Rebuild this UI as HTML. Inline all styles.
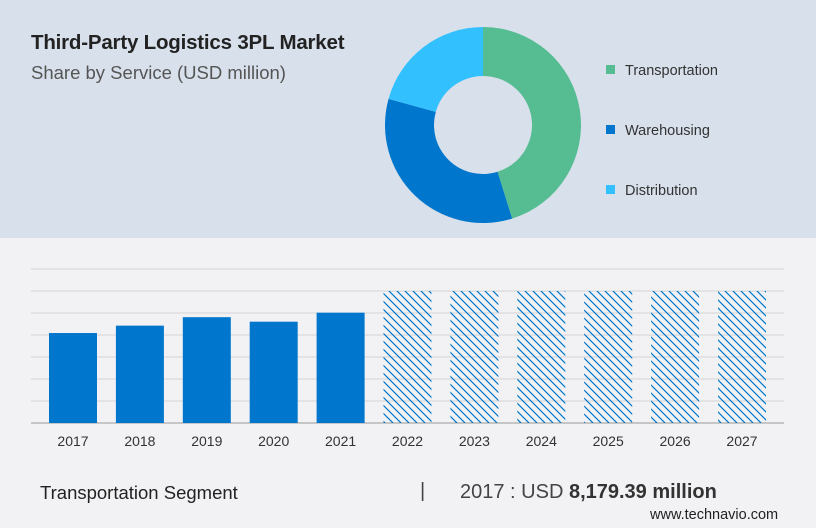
<!DOCTYPE html>
<html><head><meta charset="utf-8"><style>
body{margin:0;width:816px;height:528px;overflow:hidden;background:#f2f2f4;font-family:"Liberation Sans",sans-serif;position:relative}
.top{position:absolute;left:0;top:0;width:816px;height:238px;background:#d8e0eb}
.t{position:absolute;white-space:nowrap}
</style></head><body>
<div class="top"></div>
<div class="t" style="left:31px;top:31px;font-size:20.5px;font-weight:bold;color:#222;letter-spacing:-0.2px">Third-Party Logistics 3PL Market</div>
<div class="t" style="left:31px;top:62px;font-size:18.5px;color:#555">Share by Service (USD million)</div>
<svg id="donut" width="816" height="238" style="position:absolute;left:0;top:0"></svg>
<svg id="bars" width="816" height="290" style="position:absolute;left:0;top:238px"></svg>
<div class="t" style="left:40px;top:482px;font-size:18.5px;color:#222">Transportation Segment</div>
<div class="t" style="left:420px;top:480px;font-size:20px;color:#444">|</div>
<div class="t" style="left:460px;top:481px;font-size:20px;color:#444">2017 : USD <b style="color:#333">8,179.39 million</b></div>
<div class="t" style="left:650px;top:507px;font-size:14.5px;color:#222">www.technavio.com</div>
<script>
const segLabels=["Transportation","Warehousing","Distribution"];
const segShares=[45.2,34.1,20.7];
const segColors=["#56bd92","#0077cc","#33c0ff"];
const years=["2017","2018","2019","2020","2021","2022","2023","2024","2025","2026","2027"];
const values=[8179,8850,9620,9210,10030,12000,12000,12000,12000,12000,12000];
const forecast=[false,false,false,false,false,true,true,true,true,true,true];
const NS="http://www.w3.org/2000/svg";
function mk(p,t,a){const e=document.createElementNS(NS,t);for(const k in a)e.setAttribute(k,a[k]);p.appendChild(e);return e;}
const d=document.getElementById('donut');
const cx=483,cy=125,R=98,r=49;
let tot=segShares.reduce((a,b)=>a+b,0),ang=0;
function pt(a,rad){return [cx+rad*Math.sin(a),cy-rad*Math.cos(a)];}
segShares.forEach((v,i)=>{
 const a0=ang/tot*2*Math.PI;ang+=v;const a1=ang/tot*2*Math.PI;const lg=(a1-a0)>Math.PI?1:0;
 const [x0,y0]=pt(a0,R),[x1,y1]=pt(a1,R),[x2,y2]=pt(a1,r),[x3,y3]=pt(a0,r);
 const p=mk(d,'path',{d:`M${x0} ${y0}A${R} ${R} 0 ${lg} 1 ${x1} ${y1}L${x2} ${y2}A${r} ${r} 0 ${lg} 0 ${x3} ${y3}Z`,fill:segColors[i]});
 
 
 const ly=70+i*60;
 const m=mk(d,'rect',{x:606,y:ly-5,width:9,height:9,fill:segColors[i]});
 
 
 const t=mk(d,'text',{x:625,y:ly+5,'font-size':14.5,fill:'#333','font-family':'Liberation Sans, sans-serif'});
 t.textContent=segLabels[i];
 
 
});
const b=document.getElementById('bars');
const defs=mk(b,'defs',{});
const pat=mk(defs,'pattern',{id:'hatch',patternUnits:'userSpaceOnUse',width:8,height:8});
mk(pat,'path',{d:'M0,0L8,8M-4,4L4,12M4,-4L12,4',stroke:'#0077cc','stroke-width':1.2,fill:'none'});
const base=185,maxV=14000,plotH=154;
const y=v=>base-v/maxV*plotH;
for(let g=1;g<=7;g++){const l=mk(b,'line',{x1:31,x2:784,y1:y(g*2000),y2:y(g*2000),stroke:'#d4d4d8'});}
const ax=mk(b,'line',{x1:31,x2:784,y1:base,y2:base,stroke:'#999'});


const x0=49,step=66.9,bw=48;
years.forEach((yr,i)=>{
 const x=x0+i*step;
 const rc=mk(b,'rect',{x:x,y:y(values[i]),width:bw,height:base-y(values[i]),fill:forecast[i]?'url(#hatch)':'#0077cc'});
 
 
 const t=mk(b,'text',{x:x+bw/2,y:base+23,'text-anchor':'middle','font-size':14,fill:'#333','font-family':'Liberation Sans, sans-serif'});
 t.textContent=yr;
 
 
});
</script>
</body></html>
